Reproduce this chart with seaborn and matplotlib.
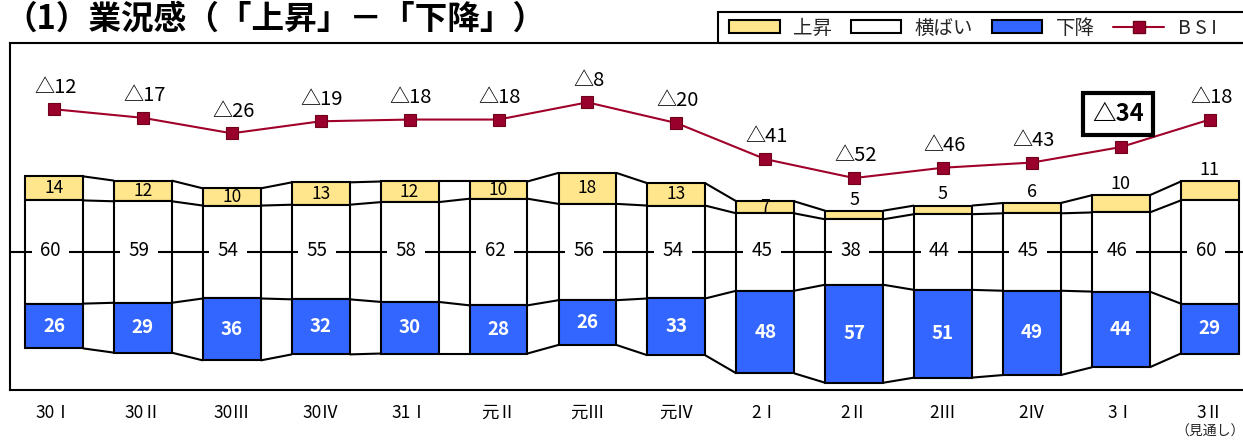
import numpy as np
import pandas as pd
import matplotlib
matplotlib.use("Agg")
import matplotlib.pyplot as plt
import matplotlib.transforms as mtransforms
from matplotlib.patches import Rectangle, Patch
from matplotlib.lines import Line2D
import seaborn as sns

# ---------------- data ----------------
periods = ["30Ⅰ", "30Ⅱ", "30Ⅲ", "30Ⅳ", "31Ⅰ", "元Ⅱ", "元Ⅲ", "元Ⅳ",
           "2Ⅰ", "2Ⅱ", "2Ⅲ", "2Ⅳ", "3Ⅰ", "3Ⅱ"]
up = [14, 12, 10, 13, 12, 10, 18, 13, 7, 5, 5, 6, 10, 11]        # 上昇
flat = [60, 59, 54, 55, 58, 62, 56, 54, 45, 38, 44, 45, 46, 60]   # 横ばい
down = [26, 29, 36, 32, 30, 28, 26, 33, 48, 57, 51, 49, 44, 29]   # 下降
bsi = [-12, -17, -26, -19, -18, -18, -8, -20, -41, -52, -46, -43, -34, -18]
up_label_above = [False] * 9 + [True] * 5
highlight_index = 12
forecast_note = "（見通し）"
title = "（1）業況感（「上昇」－「下降」）"
legend_labels = ["上昇", "横ばい", "下降", "B S I"]

# ---------------- style ----------------
YEL = "#FFE68C"
BLUE = "#3366FF"
RED = "#A0002A"
MRED = "#99002B"
LW = 1.5

sns.set_theme(style="white")
plt.rcParams['font.family'] = ['Noto Sans CJK JP', 'DejaVu Sans']

W, H = 1243, 441
fig = plt.figure(figsize=(W / 100, H / 100), dpi=100)
ax = fig.add_axes([10 / W, (H - 390) / H, 1252 / W, 347 / H])

df = pd.DataFrame({"period": periods, "up": up, "flat": flat,
                   "down": down, "bsi": bsi})
half = df["flat"].to_numpy() / 2.0
dn = df["down"].to_numpy()
bw = 0.65
common = dict(x="period", saturation=1, width=bw, edgecolor="black",
              linewidth=LW, errorbar=None, ax=ax, zorder=3)
sns.barplot(data=df, y="up", bottom=half, color=YEL, **common)
yellow_patches = list(ax.patches)
sns.barplot(data=df, y="flat", bottom=-half, color="white", **common)
sns.barplot(data=df, y="down", bottom=-half - dn, color=BLUE, **common)

# connecting bands between bars
upv = df["up"].to_numpy()
levels = [half + upv, half, -half, -half - dn]
xs = np.arange(len(periods))
for i in range(len(periods) - 1):
    for lev in levels:
        ax.plot([xs[i] + bw / 2, xs[i + 1] - bw / 2], [lev[i], lev[i + 1]],
                color="black", lw=LW, zorder=3, solid_capstyle="butt")

# center line
ax.axhline(0, color="black", lw=LW, zorder=4)

# segment labels
for i in range(len(periods)):
    if up_label_above[i]:
        ax.annotate(str(up[i]), (xs[i], half[i] + up[i]), xytext=(0, 1.5),
                    textcoords="offset points", ha="center", va="bottom",
                    fontsize=13, color="black", zorder=6)
    else:
        t = ax.text(xs[i], half[i] + up[i] / 2, str(up[i]), ha="center",
                    va="center", fontsize=12.5, color="black", zorder=6)
        if i < len(yellow_patches):
            t.set_clip_path(yellow_patches[i])
    ax.text(xs[i] - 0.04, 1.0, str(flat[i]), ha="center", va="center",
            fontsize=13.5, color="black", zorder=6,
            bbox=dict(boxstyle="square,pad=0.45", fc="white", ec="none"))
    ax.text(xs[i], -half[i] - dn[i] / 2, str(down[i]), ha="center",
            va="center", fontsize=13.5, color="white", fontweight="bold",
            zorder=6)

ax.set_xlim(-0.495, 13.588)
ax.set_ylim(-80.2, 121.5)
ax.set_yticks([])
ax.set_xticks(xs)
ax.set_xticklabels(periods, fontsize=12.5)
ax.set_xlabel("")
ax.set_ylabel("")
ax.tick_params(axis="x", length=0, pad=10, colors="black")
for s in ax.spines.values():
    s.set_color("black")
    s.set_linewidth(LW)
ax.text(13.0, -0.121, forecast_note, fontsize=10, ha="center", va="center",
        transform=mtransforms.blended_transform_factory(ax.transData, ax.transAxes))

# BSI line on twin axis
ax2 = ax.twinx()
sns.lineplot(x=xs, y=bsi, ax=ax2, color=RED, lw=LW, marker="s",
             markersize=9, markerfacecolor=MRED, markeredgecolor="#6e001c",
             markeredgewidth=0.8, zorder=7)
ax2.set_ylim(-175.2, 26.5)
ax2.set_yticks([])
for s in ax2.spines.values():
    s.set_visible(False)
ax2.set_xlim(-0.495, 13.588)

for i, v in enumerate(bsi):
    if i == highlight_index:
        ax2.annotate(f"△{abs(v)}", (xs[i], v), xytext=(-2, 24),
                     textcoords="offset points", ha="center", va="center",
                     fontsize=17, fontweight="bold", color="black", zorder=8,
                     bbox=dict(boxstyle="square,pad=0.38", fc="white",
                               ec="black", lw=3))
    else:
        ax2.annotate(f"△{abs(v)}", (xs[i], v), xytext=(1, 16),
                     textcoords="offset points", ha="center", va="center",
                     fontsize=14.5, color="black", zorder=8)

# title
fig.text(4 / W, 1 - 19 / H, title, fontsize=23.5, fontweight="bold",
         ha="left", va="center", color="black")

# legend
handles = [Patch(fc=YEL, ec="black", lw=LW),
           Patch(fc="white", ec="black", lw=LW),
           Patch(fc=BLUE, ec="black", lw=LW),
           Line2D([], [], color=RED, lw=LW, marker="s", markersize=9,
                  markerfacecolor=MRED, markeredgecolor="#6e001c")]
fig.legend(handles, legend_labels, loc="center left",
           bbox_to_anchor=(729 / W, 1 - 28 / H), ncol=4, frameon=False,
           fontsize=14, handlelength=2.6, handleheight=0.6,
           handletextpad=0.7, columnspacing=0.95, borderpad=0,
           borderaxespad=0)
fig.add_artist(Rectangle((718 / W, 1 - 43 / H), (1262 - 718) / W, 31 / H,
                         transform=fig.transFigure, fill=False,
                         ec="black", lw=LW))

fig.savefig("out.png", dpi=100)
